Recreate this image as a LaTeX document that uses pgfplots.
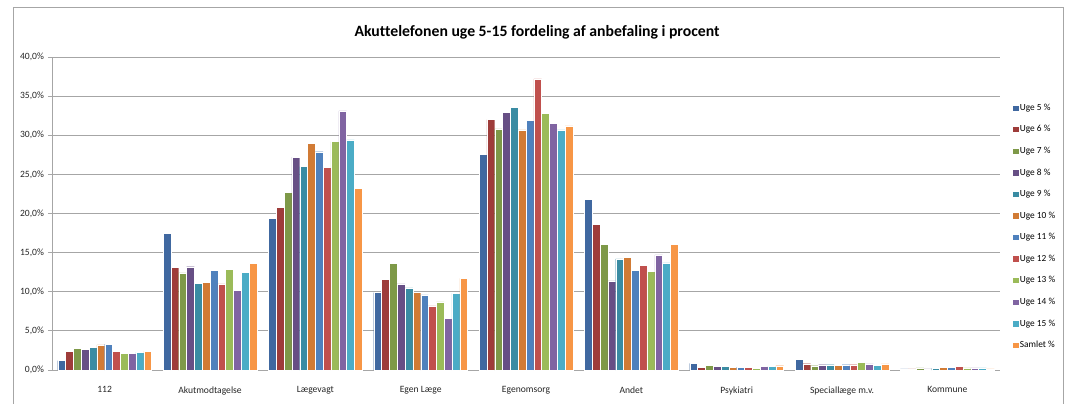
\documentclass[border=0pt]{standalone}
\usepackage{fontspec}
\setmainfont{Carlito}[Ligatures=NoCommon]
\usepackage{pgfplots}
\pgfplotsset{compat=1.18}
\usepackage{pgfplotstable}

\definecolor{c1}{HTML}{4068A0}
\definecolor{c2}{HTML}{9E3C3A}
\definecolor{c3}{HTML}{7E9948}
\definecolor{c4}{HTML}{674F85}
\definecolor{c5}{HTML}{3A8CA3}
\definecolor{c6}{HTML}{D17B35}
\definecolor{c7}{HTML}{4F81BD}
\definecolor{c8}{HTML}{C0504D}
\definecolor{c9}{HTML}{9BBB59}
\definecolor{c10}{HTML}{8064A2}
\definecolor{c11}{HTML}{4BACC6}
\definecolor{c12}{HTML}{F79646}
\definecolor{gridgray}{HTML}{A6A6A6}

% one row per category (0 = 112 ... 8 = Kommune), one column per week
\pgfplotstableread{
x  u5    u6    u7    u8    u9    u10   u11   u12   u13   u14   u15   samlet
0  1.2   2.4   2.8   2.6   2.9   3.2   3.3   2.4   2.1   2.1   2.3   2.4
1  17.5  13.1  12.4  13.2  11.1  11.2  12.7  11.0  12.9  10.2  12.5  13.6
2  19.4  20.8  22.7  27.2  26.0  29.0  27.9  25.9  29.2  33.1  29.4  23.2
3  9.9   11.6  13.6  11.0  10.5  9.9   9.6   8.2   8.7   6.6   9.8   11.7
4  27.6  32.0  30.8  32.9  33.6  30.7  31.9  37.2  32.8  31.5  30.7  31.2
5  21.8  18.6  16.1  11.4  14.2  14.4  12.7  13.4  12.6  14.7  13.7  16.1
6  0.85  0.38  0.6   0.47  0.51  0.3   0.38  0.34  0.21  0.47  0.47  0.55
7  1.36  0.81  0.55  0.68  0.68  0.6   0.68  0.68  1.02  0.77  0.6   0.77
8  0.13  0.13  0.26  0.13  0.21  0.34  0.38  0.51  0.26  0.26  0.26  0.13
}\data

\begin{document}
\begin{tikzpicture}
% picture size 1069 x 403 px at 0.75pt per px
\useasboundingbox (0pt,0pt) rectangle (801.75pt,-302.25pt);
% chart frame
\draw[gridgray, line width=0.6pt] (9.75pt,-310pt) -- (9.75pt,-5.25pt) -- (797.25pt,-5.25pt) -- (797.25pt,-310pt);
\node[font=\fontsize{11.8}{13}\selectfont\bfseries] at (402.75pt,-24pt) {Akuttelefonen uge 5-15 fordeling af anbefaling i procent};

\begin{axis}[
    at={(39pt,-277.5pt)},
    anchor=south west,
    scale only axis,
    width=711pt,
    height=234.75pt,
    ybar=0pt,
    bar width=5.87pt,
    xmin=-0.5, xmax=8.5,
    ymin=0, ymax=40,
    xtick={0,...,8},
    xticklabels={112, Akutmodtagelse, Lægevagt, Egen Læge, Egenomsorg, Andet, Psykiatri, Speciallæge m.v., Kommune},
    ytick={0,5,...,40},
    yticklabels={{0,0\%},{5,0\%},{10,0\%},{15,0\%},{20,0\%},{25,0\%},{30,0\%},{35,0\%},{40,0\%}},
    ymajorgrids=true,
    grid style={gridgray, line width=0.7pt},
    axis x line*=bottom,
    axis y line*=left,
    axis line style={gridgray, line width=0.7pt},
    x axis line style={-},
    y axis line style={-},
    xtick style={draw=none},
    ytick style={gridgray, line width=0.7pt},
    tick align=outside,
    major tick length=3pt,
    tick label style={font=\fontsize{7.2}{8.5}\selectfont, text=black!85},
    xticklabel style={yshift=-6pt},
    yticklabel style={xshift=0.5pt},
    every axis plot/.append style={draw=white, line width=0.25pt},
    legend style={at={(1.0137,0.855)}, anchor=north west, draw=none, fill=none,
        font=\fontsize{7}{8.5}\selectfont, row sep=7.9pt, inner sep=0pt,
        nodes={inner sep=1pt}},
    legend cell align=left,
    legend image code/.code={\fill[#1, draw=none] (0pt,-2pt) rectangle (4pt,2pt);},
]
\addplot[fill=c1]  table[x=x, y=u5]  {\data};
\addplot[fill=c2]  table[x=x, y=u6]  {\data};
\addplot[fill=c3]  table[x=x, y=u7]  {\data};
\addplot[fill=c4]  table[x=x, y=u8]  {\data};
\addplot[fill=c5]  table[x=x, y=u9]  {\data};
\addplot[fill=c6]  table[x=x, y=u10] {\data};
\addplot[fill=c7]  table[x=x, y=u11] {\data};
\addplot[fill=c8]  table[x=x, y=u12] {\data};
\addplot[fill=c9]  table[x=x, y=u13] {\data};
\addplot[fill=c10] table[x=x, y=u14] {\data};
\addplot[fill=c11] table[x=x, y=u15] {\data};
\addplot[fill=c12] table[x=x, y=samlet] {\data};
\legend{Uge 5 \%, Uge 6 \%, Uge 7 \%, Uge 8 \%, Uge 9 \%, Uge 10 \%, Uge 11 \%, Uge 12 \%, Uge 13 \%, Uge 14 \%, Uge 15 \%, Samlet \%}
\end{axis}
\end{tikzpicture}
\end{document}
